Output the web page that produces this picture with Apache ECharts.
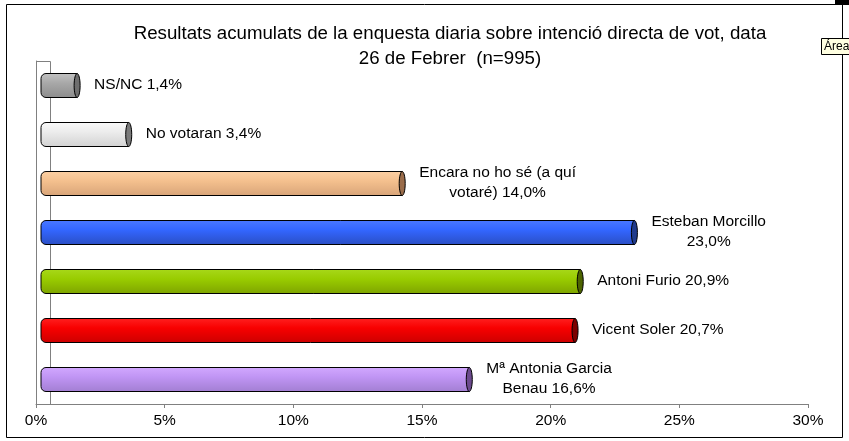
<!DOCTYPE html>
<html>
<head>
<meta charset="utf-8">
<script src="https://cdn.jsdelivr.net/npm/echarts@6/dist/echarts.min.js"></script>
<style>
  html, body { margin: 0; padding: 0; background: #fff; }
  #chart { width: 849px; height: 441px; }
</style>
</head>
<body>
<div id="chart"></div>
<script>
// categories, top to bottom
var categories = ['NS/NC', 'No votaran', 'Encara no ho sé (a quí votaré)', 'Esteban Morcillo', 'Antoni Furio', 'Vicent Soler', 'Mª Antonia Garcia Benau'];
// vote intention (%)
var values = [1.4, 3.4, 14.0, 23.0, 20.9, 20.7, 16.6];
// data labels as shown
var labels = ['NS/NC 1,4%', 'No votaran 3,4%', 'Encara no ho sé (a quí\nvotaré) 14,0%', 'Esteban Morcillo\n23,0%', 'Antoni Furio 20,9%', 'Vicent Soler 20,7%', 'Mª Antonia Garcia\nBenau 16,6%'];
var xTicks = [0, 5, 10, 15, 20, 25, 30];

// colores: claro arriba, oscuro abajo, tapa
var barColors = [
  { top: '#c4c4c4', mid: '#a8a8a8', bot: '#8c8c8c', cap: '#6e6e6e' },
  { top: '#fafafa', mid: '#ececec', bot: '#d2d2d2', cap: '#7a7a7a' },
  { top: '#fcd0a4', mid: '#f4c08e', bot: '#d8a478', cap: '#9a6c4a' },
  { top: '#4a78ff', mid: '#3366ff', bot: '#2a4ec4', cap: '#1f3a8c' },
  { top: '#a8d81a', mid: '#99cc00', bot: '#7ea400', cap: '#4d6400' },
  { top: '#ff2020', mid: '#f80000', bot: '#cc0000', cap: '#7c0000' },
  { top: '#d2a8ff', mid: '#c095f4', bot: '#a27ed2', cap: '#6c4a8e' }
];

var labelFont = '15.5px "Liberation Sans", Arial, sans-serif';
var ctx = document.createElement('canvas').getContext('2d');
ctx.font = labelFont;
function textWidth(s) {
  var w = 0;
  s.split('\n').forEach(function (l) { w = Math.max(w, ctx.measureText(l).width); });
  return w;
}

var seriesData = values.map(function (v, i) { return [v, i]; });

function renderBar(params, api) {
  var i = params.dataIndex;
  var start = api.coord([0, api.value(1)]);
  var end = api.coord([api.value(0), api.value(1)]);
  var h = 24;
  var c = barColors[i];
  var tw = textWidth(labels[i]);
  return {
    type: 'group',
    children: [
      {
        type: 'rect',
        shape: { x: start[0], y: start[1] - h / 2, width: end[0] - start[0], height: h, r: [5, 0, 0, 5] },
        style: {
          fill: new echarts.graphic.LinearGradient(0, 0, 0, 1, [
            { offset: 0, color: c.top },
            { offset: 0.4, color: c.mid },
            { offset: 1, color: c.bot }
          ]),
          stroke: '#000',
          lineWidth: 1
        }
      },
      {
        type: 'ellipse',
        shape: { cx: end[0], cy: end[1], rx: 3, ry: h / 2 },
        style: { fill: c.cap, stroke: '#000', lineWidth: 1 }
      },
      {
        type: 'text',
        style: {
          text: labels[i],
          x: end[0] + 17 + tw / 2,
          y: end[1] - 1,
          align: 'center',
          verticalAlign: 'middle',
          font: labelFont,
          lineHeight: 20,
          fill: '#000'
        }
      }
    ]
  };
}

var chart = echarts.init(document.getElementById('chart'));
chart.setOption({
  animation: false,
  title: {
    text: 'Resultats acumulats de la enquesta diaria sobre intenció directa de vot, data\n26 de Febrer  (n=995)',
    left: 445,
    top: 16,
    textAlign: 'center',
    textStyle: { fontFamily: 'Liberation Sans', fontSize: 18.7, fontWeight: 'normal', color: '#000', lineHeight: 25 }
  },
  grid: [
    { left: 36, right: 41, top: 61, bottom: 37 },
    { left: 41, right: 34, top: 61, bottom: 37 }
  ],
  xAxis: [
    {
      gridIndex: 0, type: 'value', min: 0, max: 30, interval: 5,
      axisLine: { show: true, lineStyle: { color: '#808080', width: 1 } },
      axisTick: { show: true, length: 4, lineStyle: { color: '#808080' } },
      splitLine: { show: false },
      axisLabel: {
        formatter: '{value}%', margin: 9, color: '#000',
        fontFamily: 'Liberation Sans', fontSize: 15.5
      }
    },
    { gridIndex: 1, type: 'value', min: 0, max: 30, show: false }
  ],
  yAxis: [
    {
      gridIndex: 0, type: 'category', data: categories, inverse: true,
      axisLine: { show: true, lineStyle: { color: '#808080', width: 1 } },
      axisTick: { show: false }, axisLabel: { show: false }
    },
    { gridIndex: 1, type: 'category', data: categories, inverse: true, show: false }
  ],
  graphic: [
    // pared del fondo
    {
      type: 'polyline', silent: true,
      shape: { points: [[36.5, 61.5], [50.5, 61.5], [50.5, 404]] },
      style: { stroke: '#808080', lineWidth: 1, fill: null }
    },
    // marco exterior
    {
      type: 'rect', silent: true,
      shape: { x: 6.5, y: 4.5, width: 836, height: 433 },
      style: { stroke: '#000', lineWidth: 1, fill: null }
    },
    { type: 'rect', silent: true, shape: { x: 835, y: 0, width: 14, height: 5 }, style: { fill: '#000' } },
    // tooltip "Área"
    {
      type: 'rect', silent: true, z: 100,
      shape: { x: 821.5, y: 38.5, width: 30, height: 16 },
      style: { fill: '#ffffe1', stroke: '#000', lineWidth: 1 }
    },
    {
      type: 'text', silent: true, z: 101,
      style: { text: 'Área', x: 824, y: 47, verticalAlign: 'middle', font: '12px "Liberation Sans", Arial, sans-serif', fill: '#000' }
    }
  ],
  series: [{
    type: 'custom',
    xAxisIndex: 1,
    yAxisIndex: 1,
    renderItem: renderBar,
    data: seriesData,
    encode: { x: 0, y: 1 }
  }]
});
</script>
</body>
</html>
